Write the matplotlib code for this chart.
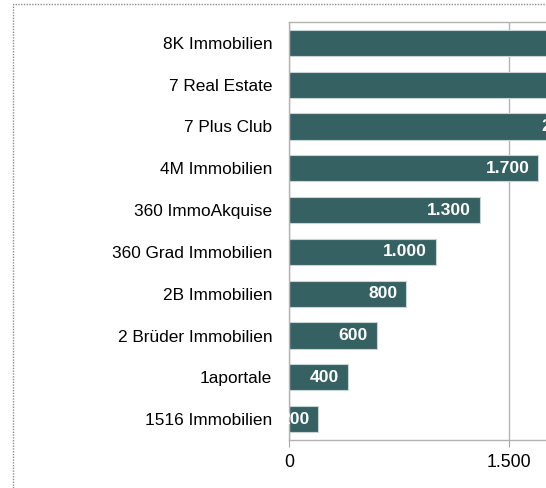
import matplotlib.pyplot as plt
from matplotlib.patches import Rectangle

# data, top to bottom
companies = ["8K Immobilien", "7 Real Estate", "7 Plus Club", "4M Immobilien",
             "360 ImmoAkquise", "360 Grad Immobilien", "2B Immobilien",
             "2 Brüder Immobilien", "1aportale", "1516 Immobilien"]
values = [3000, 2500, 2080, 1700, 1300, 1000, 800, 600, 400, 200]
xticks = [0, 1500]
xtick_labels = ["0", "1.500"]

plt.rcParams['font.family'] = ['Liberation Sans', 'DejaVu Sans']

W, H = 546, 488
fig = plt.figure(figsize=(W / 100, H / 100), dpi=100)

# dotted frame round the chart (right and bottom cut off)
fig.patches.append(Rectangle((13 / W, -0.1), 1.2, (H - 4) / H + 0.1,
                             transform=fig.transFigure, fill=False,
                             edgecolor='#8c8c8c', linestyle=(0, (1, 1)),
                             linewidth=1))

px = 220 / 1500  # pixels per unit
left = 289
xmax = (W - left) / px  # axes ends at the right edge of the picture
ax = fig.add_axes([left / W, 48 / H, (W - left) / W, 418 / H])

bar_color = '#356163'
ypos = list(range(len(companies)))
ax.barh(ypos, values, height=0.63, color=bar_color, edgecolor='#c9d3d3',
        linewidth=0.8, zorder=2)

for y, v in zip(ypos, values):
    lab = f"{round(v, -2):,}".replace(",", ".")
    t = ax.annotate(lab, xy=(v, y), xytext=(-6.5, 0), textcoords='offset points',
                    ha='right', va='center', color='white', fontweight='bold',
                    fontsize=12.6, zorder=3, annotation_clip=False)
    t.set_clip_on(True)

ax.set_xlim(0, xmax)
ax.set_ylim(len(companies) - 0.5, -0.5)
ax.set_yticks(ypos)
ax.set_yticklabels(companies, fontsize=12.4)
ax.set_xticks(xticks)
ax.set_xticklabels(xtick_labels, fontsize=12.8)
ax.tick_params(axis='y', length=0, pad=12)
ax.tick_params(axis='x', length=5, color='#a6a6a6', pad=5)
ax.xaxis.grid(True, color='#b3b3b3', linewidth=1, zorder=0)
ax.set_axisbelow(True)
for s in ['top', 'bottom', 'left']:
    ax.spines[s].set_color('#b3b3b3')
    ax.spines[s].set_linewidth(1)
ax.spines['right'].set_visible(False)

fig.savefig("out.png", dpi=100)
